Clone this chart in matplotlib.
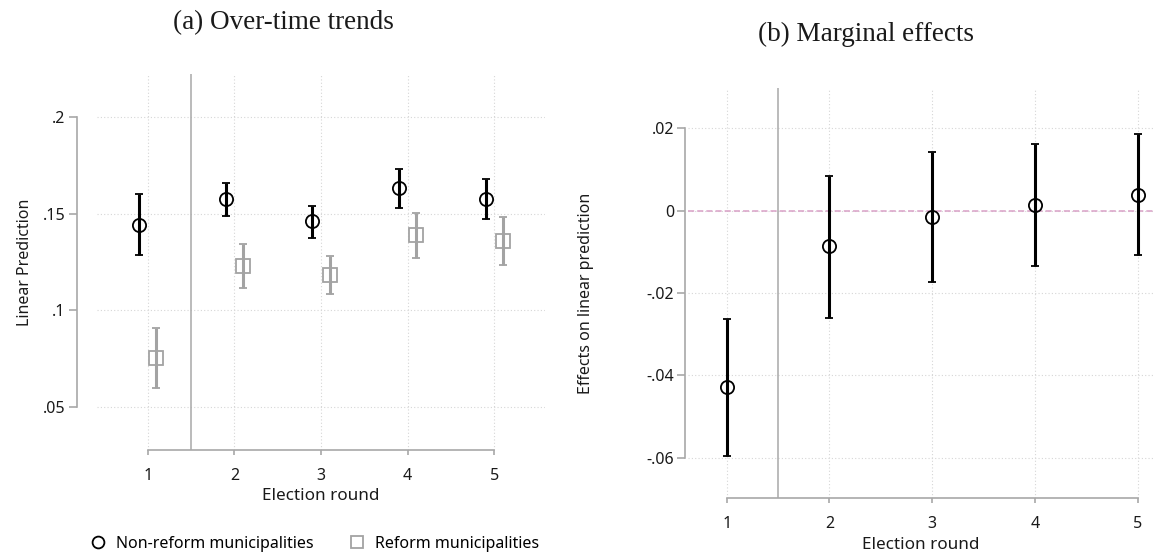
import matplotlib
matplotlib.use("Agg")
import matplotlib.pyplot as plt
from matplotlib.lines import Line2D
import numpy as np

# ---- data ----
rounds = [1, 2, 3, 4, 5]
nonreform_est = [0.1442, 0.1574, 0.1459, 0.1631, 0.1577]
nonreform_lo = [0.1287, 0.1487, 0.1373, 0.1530, 0.1471]
nonreform_hi = [0.1600, 0.1660, 0.1540, 0.1732, 0.1680]
reform_est = [0.0754, 0.1227, 0.1184, 0.1387, 0.1358]
reform_lo = [0.0600, 0.1113, 0.1085, 0.1268, 0.1236]
reform_hi = [0.0911, 0.1340, 0.1280, 0.1504, 0.1483]
effect_est = [-0.0429, -0.0087, -0.0015, 0.0013, 0.0037]
effect_lo = [-0.0596, -0.0261, -0.0173, -0.0134, -0.0108]
effect_hi = [-0.0264, 0.0085, 0.0142, 0.0162, 0.0186]
left_yticks = [0.05, 0.1, 0.15, 0.2]
left_yticklabels = [".05", ".1", ".15", ".2"]
right_yticks = [-0.06, -0.04, -0.02, 0, 0.02]
right_yticklabels = ["-.06", "-.04", "-.02", "0", ".02"]
title_a = "(a) Over-time trends"
title_b = "(b) Marginal effects"
xlabel = "Election round"
ylabel_a = "Linear Prediction"
ylabel_b = "Effects on linear prediction"
legend_labels = ["Non-reform municipalities", "Reform municipalities"]

SANS = ["Noto Sans", "DejaVu Sans"]
SERIF = ["Liberation Serif", "DejaVu Serif"]
plt.rcParams["font.family"] = SANS

W, H = 1153, 556
fig = plt.figure(figsize=(W / 100, H / 100), dpi=100)

def px_axes(x0, x1, ytop, ybot):
    return fig.add_axes([x0 / W, (H - ybot) / H, (x1 - x0) / W, (ybot - ytop) / H])

GRAY = "#a3a3a3"
AXGRAY = "#a8a8a8"
GRID = "#d6d6d6"
TXT = "#1a1a1a"
TICKFS = 11.5
LABFS = 12.3

def style(ax, yticks, yticklabels, ybounds, outward_px):
    for s in ["top", "right"]:
        ax.spines[s].set_visible(False)
    for s in ["left", "bottom"]:
        ax.spines[s].set_color(AXGRAY)
        ax.spines[s].set_linewidth(1.2)
    ax.spines["left"].set_position(("outward", outward_px * 0.72))
    ax.spines["left"].set_bounds(*ybounds)
    ax.spines["bottom"].set_bounds(1, 5)
    ax.set_xticks(rounds)
    ax.set_xticklabels([str(r) for r in rounds])
    ax.set_yticks(yticks)
    ax.set_yticklabels(yticklabels)
    ax.tick_params(axis="y", length=6, width=1.2, color=AXGRAY, pad=2,
                   labelsize=TICKFS, labelcolor=TXT)
    ax.tick_params(axis="x", length=3.6, width=1.2, color=AXGRAY, pad=9.5,
                   labelsize=TICKFS, labelcolor=TXT)
    ax.grid(True, color=GRID, linestyle=(0, (1, 2)), linewidth=0.8)
    ax.set_axisbelow(True)

# ---- left panel ----
ax1 = px_axes(96.7, 545, 74, 450)
ax1.set_xlim(0.4116, 5.584)
ax1.set_ylim(0.0278, 0.2221)
style(ax1, left_yticks, left_yticklabels, (0.05, 0.2), 20)
ax1.axvline(1.5, color=AXGRAY, lw=1.1, zorder=1)
x = np.array(rounds, dtype=float)
ne = np.array(nonreform_est)
re = np.array(reform_est)
ax1.errorbar(x - 0.1, ne, yerr=[ne - np.array(nonreform_lo), np.array(nonreform_hi) - ne],
             fmt="o", color="black", ecolor="black", elinewidth=2.2, capsize=3,
             capthick=2.2, markersize=9.5, markerfacecolor="none",
             markeredgewidth=1.3, zorder=3)
ax1.errorbar(x + 0.1, re, yerr=[re - np.array(reform_lo), np.array(reform_hi) - re],
             fmt="s", color=GRAY, ecolor=GRAY, elinewidth=2.2, capsize=3,
             capthick=2.2, markersize=9.5, markerfacecolor="none",
             markeredgewidth=1.3, zorder=3)
ax1.set_xlabel(xlabel, fontsize=LABFS, labelpad=3, color=TXT)
ax1.set_ylabel(ylabel_a, fontsize=TICKFS, color=TXT)
ax1.yaxis.set_label_coords(-(96.7 - 33) / 448.3, 0.5)

# ---- right panel ----
ax2 = px_axes(688, 1153, 87.7, 498.3)
ax2.set_xlim(0.6234, 5.149)
ax2.set_ylim(-0.0698, 0.0298)
style(ax2, right_yticks, right_yticklabels, (-0.06, 0.02), 3)
ax2.axvline(1.5, color=AXGRAY, lw=1.1, zorder=1)
ax2.axhline(0, color="#d9a0c6", lw=1.1, dashes=(4, 2), zorder=2)
ee = np.array(effect_est)
ax2.errorbar(x, ee, yerr=[ee - np.array(effect_lo), np.array(effect_hi) - ee],
             fmt="o", color="black", ecolor="black", elinewidth=2.2, capsize=3,
             capthick=2.2, markersize=9.5, markerfacecolor="none",
             markeredgewidth=1.3, zorder=3)
ax2.set_xlabel(xlabel, fontsize=LABFS, labelpad=3, color=TXT)
ax2.set_ylabel(ylabel_b, fontsize=TICKFS, color=TXT)
ax2.yaxis.set_label_coords(-(688 - 594) / 465, 0.5)

# ---- titles ----
fig.text(283 / W, 1 - 23 / H, title_a, ha="center", va="center",
         fontsize=19.5, family=SERIF, color=TXT)
fig.text(866 / W, 1 - 34 / H, title_b, ha="center", va="center",
         fontsize=19.5, family=SERIF, color=TXT)

# ---- legend ----
handles = [
    Line2D([], [], linestyle="none", marker="o", markersize=8.5,
           markerfacecolor="none", markeredgecolor="black", markeredgewidth=1.3),
    Line2D([], [], linestyle="none", marker="s", markersize=8.5,
           markerfacecolor="none", markeredgecolor=GRAY, markeredgewidth=1.3),
]
fig.legend(handles, legend_labels, loc="center left",
           bbox_to_anchor=(89.7 / W, 1 - 544 / H), ncol=2, frameon=False,
           fontsize=TICKFS, handlelength=1.0, handletextpad=0.65,
           columnspacing=2.2, borderaxespad=0, borderpad=0)

fig.savefig("out.png", dpi=100, facecolor="white")
